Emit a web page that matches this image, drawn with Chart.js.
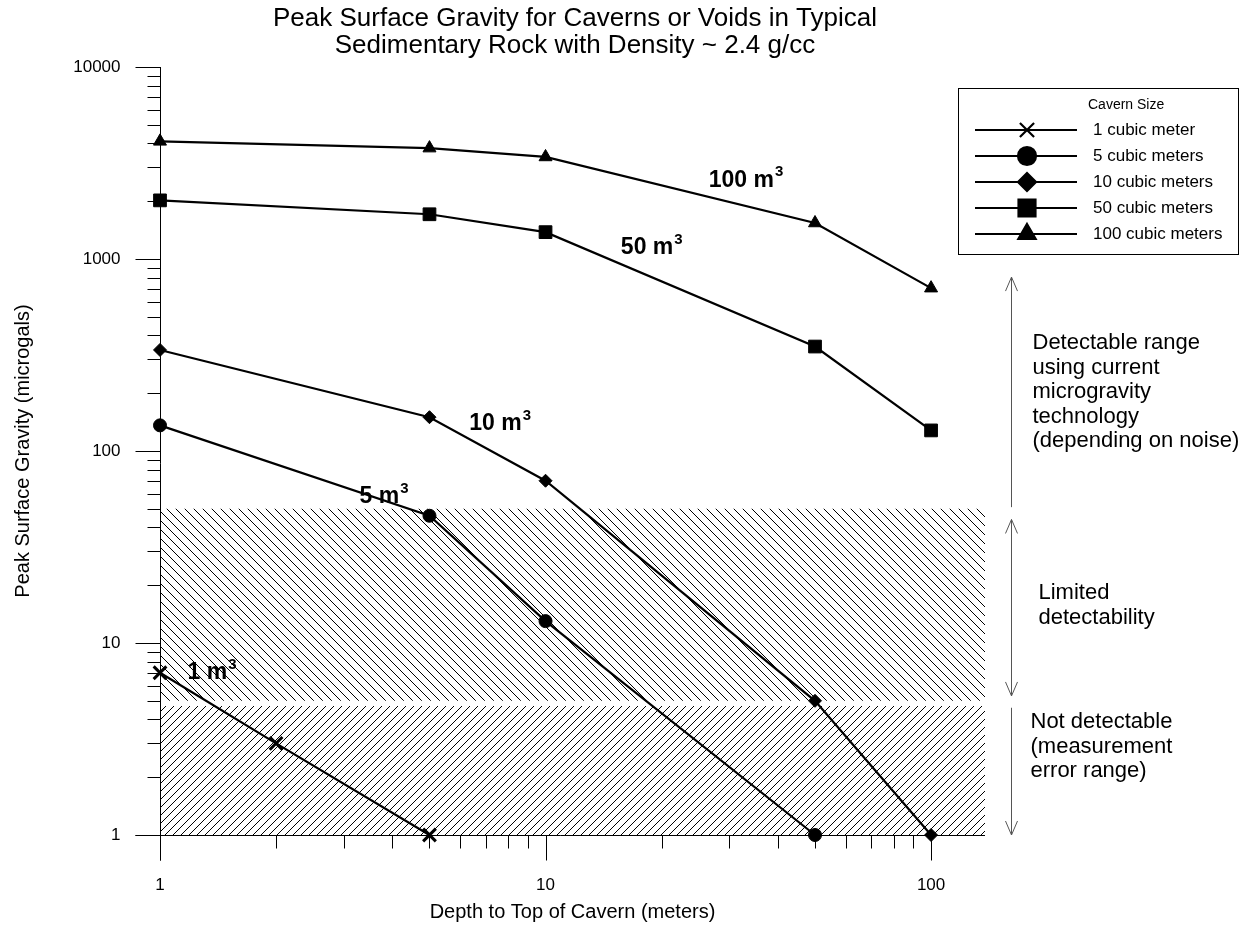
<!DOCTYPE html>
<html>
<head>
<meta charset="utf-8">
<script src="https://cdn.jsdelivr.net/npm/chart.js@4.4.1/dist/chart.umd.min.js"></script>
<style>
  body { margin: 0; background: #fff; }
  #wrap { width: 1249px; height: 933px; }
</style>
</head>
<body>
<div id="wrap"><canvas id="gravityChart" width="1249" height="933"></canvas></div>
<script>
// depth to top of cavern (m) and peak gravity (microgals) per cavern size
const depths1 = [1, 2, 5];
const gravity1 = [7, 3, 1];
const depths5 = [1, 5, 10, 50];
const gravity5 = [136, 46, 13, 1];
const depths10 = [1, 5, 10, 50, 100];
const gravity10 = [336, 150, 70, 5, 1];
const depths50 = [1, 5, 10, 50, 100];
const gravity50 = [2020, 1710, 1380, 350, 128];
const depths100 = [1, 5, 10, 50, 100];
const gravity100 = [4100, 3780, 3400, 1540, 705];

const seriesNames = ['1 cubic meter', '5 cubic meters', '10 cubic meters', '50 cubic meters', '100 cubic meters'];
const curveLabels = ['1 m', '5 m', '10 m', '50 m', '100 m'];
const curveLabelX = [1.36, 3.8, 7.6, 18.8, 33];
const curveLabelY = [7.0, 58, 138, 1140, 2570];

const xTickLabels = [1, 10, 100];
const yTickLabels = [1, 10, 100, 1000, 10000];
const xMax = 138;

// hatched bands: limited detectability and measurement error range
const limitedBand = [50, 5];
const errorBand = [4.7, 1];

const arrowRanges = [[805, 51], [44, 5.3], [4.6, 1]];
const arrowHeads = [[true, false], [true, true], [false, true]];
const noteLines = [
  ['Detectable range', 'using current', 'microgravity', 'technology', '(depending on noise)'],
  ['Limited', 'detectability'],
  ['Not detectable', '(measurement', 'error range)']
];

const FONT = "'Liberation Sans', Arial, sans-serif";

function hatch(size, back) {
  const c = document.createElement('canvas');
  c.width = size; c.height = size;
  const g = c.getContext('2d');
  g.strokeStyle = '#000';
  g.lineWidth = 1;
  g.beginPath();
  if (back) {
    g.moveTo(-1, -1); g.lineTo(size + 1, size + 1);
    g.moveTo(-1, size - 1); g.lineTo(1, size + 1);
    g.moveTo(size - 1, -1); g.lineTo(size + 1, 1);
  } else {
    g.moveTo(-1, size + 1); g.lineTo(size + 1, -1);
    g.moveTo(-1, 1); g.lineTo(1, -1);
    g.moveTo(size - 1, size + 1); g.lineTo(size + 1, size - 1);
  }
  g.stroke();
  return g.createPattern(c, 'repeat');
}

function pts(xs, ys) {
  return xs.map((x, i) => ({ x: x, y: ys[i] }));
}

function series(i, xs, ys, style, radius, legendRadius) {
  return {
    label: seriesNames[i],
    data: pts(xs, ys),
    isSeries: true,
    legendRadius: legendRadius,
    borderColor: '#000',
    backgroundColor: '#000',
    borderWidth: 2.2,
    pointStyle: style,
    pointRadius: radius,
    pointBorderWidth: style === 'crossRot' ? 3 : 1,
    pointBackgroundColor: '#000',
    pointBorderColor: '#000',
    fill: false,
    tension: 0,
    clip: false,
    order: 1
  };
}

function band(values, pattern, fillNext) {
  return {
    label: '',
    data: [{ x: 1, y: values }, { x: xMax, y: values }],
    borderWidth: 0,
    borderColor: 'rgba(0,0,0,0)',
    pointRadius: 0,
    backgroundColor: pattern,
    fill: fillNext ? '+1' : false,
    order: 10
  };
}

const patBack = hatch(9, true);
const patFwd = hatch(8, false);

const datasets = [
  band(limitedBand[0], patBack, true),
  band(limitedBand[1], patBack, false),
  band(errorBand[0], patFwd, true),
  band(errorBand[1], patFwd, false),
  series(0, depths1, gravity1, 'crossRot', 9, 10),
  series(1, depths5, gravity5, 'circle', 6.5, 9),
  series(2, depths10, gravity10, 'rectRot', 6.5, 9),
  series(3, depths50, gravity50, 'rect', 9, 12),
  series(4, depths100, gravity100, 'triangle', 7.5, 10)
];

function drawAxes(chart) {
  const ctx = chart.ctx, xs = chart.scales.x, ys = chart.scales.y, a = chart.chartArea;
  const L = Math.round(a.left) + 0.5, B = Math.round(a.bottom) + 0.5;
  ctx.save();
  ctx.strokeStyle = '#000';
  ctx.lineWidth = 1;
  ctx.beginPath();
  ctx.moveTo(L, a.top); ctx.lineTo(L, B + 25);
  ctx.moveTo(L - 25, B); ctx.lineTo(a.right, B);
  for (let d = 0; d < 4; d++) {
    for (let m = 1; m <= 9; m++) {
      const py = Math.round(ys.getPixelForValue(m * Math.pow(10, d))) + 0.5;
      const len = m === 1 ? 25 : 13;
      ctx.moveTo(L - len, py); ctx.lineTo(L, py);
    }
  }
  const top = Math.round(ys.getPixelForValue(10000)) + 0.5;
  ctx.moveTo(L - 25, top); ctx.lineTo(L, top);
  for (let d = 0; d < 3; d++) {
    for (let m = 1; m <= 9; m++) {
      const v = m * Math.pow(10, d);
      if (v > xMax) break;
      const px = Math.round(xs.getPixelForValue(v)) + 0.5;
      const len = m === 1 ? 25 : 13;
      ctx.moveTo(px, B); ctx.lineTo(px, B + len);
    }
  }
  ctx.stroke();

  ctx.fillStyle = '#000';
  ctx.font = '17px ' + FONT;
  ctx.textAlign = 'right';
  ctx.textBaseline = 'middle';
  yTickLabels.forEach(v => ctx.fillText(String(v), L - 40, ys.getPixelForValue(v)));
  ctx.textAlign = 'center';
  xTickLabels.forEach(v => ctx.fillText(String(v), xs.getPixelForValue(v), B + 50));

  ctx.font = '20px ' + FONT;
  ctx.fillText('Depth to Top of Cavern (meters)', (a.left + a.right) / 2, 912);
  ctx.save();
  ctx.translate(23, (a.top + a.bottom) / 2);
  ctx.rotate(-Math.PI / 2);
  ctx.fillText('Peak Surface Gravity (microgals)', 0, 0);
  ctx.restore();

  ctx.font = '26px ' + FONT;
  ctx.fillText('Peak Surface Gravity for Caverns or Voids in Typical', 575, 19);
  ctx.fillText('Sedimentary Rock with Density ~ 2.4 g/cc', 575, 46);
  ctx.restore();
}

function drawHead(ctx, x, y, dir) {
  ctx.moveTo(x - 6, y - dir * 14);
  ctx.lineTo(x, y);
  ctx.lineTo(x + 6, y - dir * 14);
}

const decorPlugin = {
  id: 'decor',
  beforeDraw(chart) {
    chart.$axesDone = false;
  },
  beforeDatasetDraw(chart, args) {
    if (chart.$axesDone || !chart.data.datasets[args.index].isSeries) return;
    chart.$axesDone = true;
    drawAxes(chart);
  },
  afterDatasetsDraw(chart) {
    const ctx = chart.ctx, xs = chart.scales.x, ys = chart.scales.y, a = chart.chartArea;
    ctx.save();
    ctx.fillStyle = '#000';
    ctx.textBaseline = 'middle';
    ctx.textAlign = 'left';
    // curve labels
    curveLabels.forEach((t, i) => {
      const px = xs.getPixelForValue(curveLabelX[i]);
      const py = ys.getPixelForValue(curveLabelY[i]);
      ctx.font = 'bold 23px ' + FONT;
      const w = ctx.measureText(t).width;
      ctx.font = 'bold 15px ' + FONT;
      const w3 = ctx.measureText('3').width;
      const x0 = px - (w + w3) / 2;
      ctx.font = 'bold 23px ' + FONT;
      ctx.fillText(t, x0, py);
      ctx.font = 'bold 15px ' + FONT;
      ctx.fillText('3', x0 + w + 1, py - 8);
    });

    // detectability arrows and notes
    const ax = Math.round(a.right + 26) + 0.5;
    ctx.strokeStyle = '#555';
    ctx.lineWidth = 1;
    arrowRanges.forEach((r, i) => {
      const y1 = ys.getPixelForValue(r[0]);
      const y2 = ys.getPixelForValue(r[1]);
      ctx.beginPath();
      ctx.moveTo(ax, y1); ctx.lineTo(ax, y2);
      if (arrowHeads[i][0]) drawHead(ctx, ax, y1, -1);
      if (arrowHeads[i][1]) drawHead(ctx, ax, y2, 1);
      ctx.stroke();
    });
    ctx.font = '22px ' + FONT;
    const noteX = [ax + 21, ax + 27, ax + 19];
    const noteY = [343, 593, 722];
    noteLines.forEach((lines, i) => {
      lines.forEach((t, j) => ctx.fillText(t, noteX[i], noteY[i] + j * 24.5));
    });

    // legend
    const box = { left: 958, top: 88, right: 1238, bottom: 254 };
    ctx.strokeStyle = '#000';
    ctx.lineWidth = 1;
    ctx.strokeRect(box.left + 0.5, box.top + 0.5, box.right - box.left, box.bottom - box.top);
    ctx.font = '14px ' + FONT;
    ctx.fillText('Cavern Size', 1088, box.top + 17);
    ctx.font = '17px ' + FONT;
    chart.data.datasets.filter(d => d.isSeries).forEach((d, i) => {
      const ry = box.top + 42 + i * 26;
      ctx.strokeStyle = '#000';
      ctx.lineWidth = 2.2;
      ctx.beginPath();
      ctx.moveTo(975, ry); ctx.lineTo(1077, ry);
      ctx.stroke();
      ctx.fillStyle = '#000';
      Chart.helpers.drawPoint(ctx, {
        pointStyle: d.pointStyle, rotation: 0, radius: d.legendRadius, borderWidth: d.pointBorderWidth
      }, 1027, ry);
      ctx.fillText(d.label, 1093, ry);
    });
    ctx.restore();
  }
};

new Chart(document.getElementById('gravityChart'), {
  type: 'line',
  data: { datasets: datasets },
  options: {
    responsive: false,
    animation: false,
    devicePixelRatio: 1,
    layout: { padding: { left: 160, right: 264, top: 67, bottom: 98 } },
    scales: {
      x: { type: 'logarithmic', min: 1, max: xMax, display: false },
      y: { type: 'logarithmic', min: 1, max: 10000, display: false }
    },
    plugins: {
      legend: { display: false },
      tooltip: { enabled: false }
    }
  },
  plugins: [decorPlugin]
});
</script>
</body>
</html>
